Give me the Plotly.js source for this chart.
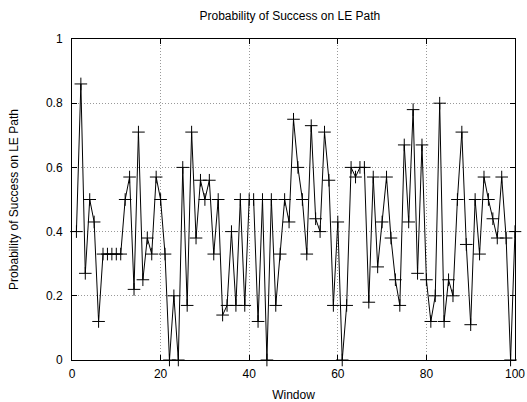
<!DOCTYPE html>
<html>
<head>
<meta charset="utf-8">
<script src="https://cdn.plot.ly/plotly-3.0.1.min.js"></script>
<style>
  html, body { margin: 0; padding: 0; background: #fff; }
  #chart { width: 527px; height: 402px; }
</style>
</head>
<body>
<div id="chart"></div>
<script>
// Success probability per observation window on the LE path
var probability = [
  0.40, 0.86, 0.27, 0.50, 0.43, 0.12, 0.33, 0.33, 0.33, 0.33,
  0.33, 0.50, 0.57, 0.22, 0.71, 0.25, 0.38, 0.33, 0.57, 0.50,
  0.33, 0.00, 0.20, 0.00, 0.60, 0.17, 0.71, 0.38, 0.56, 0.50,
  0.56, 0.33, 0.50, 0.14, 0.17, 0.40, 0.17, 0.50, 0.17, 0.50,
  0.50, 0.12, 0.50, 0.00, 0.50, 0.17, 0.33, 0.50, 0.43, 0.75,
  0.60, 0.50, 0.33, 0.73, 0.44, 0.40, 0.71, 0.56, 0.17, 0.43,
  0.00, 0.17, 0.60, 0.57, 0.60, 0.60, 0.18, 0.57, 0.29, 0.43,
  0.57, 0.38, 0.25, 0.17, 0.67, 0.43, 0.78, 0.27, 0.67, 0.25,
  0.12, 0.20, 0.80, 0.12, 0.25, 0.20, 0.50, 0.71, 0.36, 0.11,
  0.50, 0.33, 0.57, 0.50, 0.44, 0.38, 0.57, 0.38, 0.00, 0.40
];
// Window numbers 1..N
var windows = probability.map(function (_, i) { return i + 1; });

var xTicks = [0, 20, 40, 60, 80, 100];
var yTicks = [0, 0.2, 0.4, 0.6, 0.8, 1];

var font = { family: '"Liberation Sans", Arial, sans-serif', size: 12, color: '#000' };

var axisCommon = {
  showline: true,
  linecolor: '#000',
  linewidth: 1,
  mirror: 'ticks',
  ticks: 'inside',
  ticklen: 5,
  tickwidth: 1,
  tickcolor: '#000',
  showgrid: true,
  gridcolor: '#999',
  gridwidth: 1,
  griddash: '1px,2px',
  zeroline: false,
  tickfont: font,
  tickmode: 'array'
};

var trace = {
  x: windows,
  y: probability,
  type: 'scatter',
  mode: 'lines+markers',
  cliponaxis: false,
  line: { color: '#000', width: 1 },
  marker: {
    symbol: 'cross-thin',
    size: 9,
    color: '#000',
    line: { color: '#000', width: 1 }
  },
  hoverinfo: 'x+y'
};

var layout = {
  width: 527,
  height: 402,
  margin: { l: 72, r: 12, t: 39, b: 42 },
  paper_bgcolor: '#fff',
  plot_bgcolor: '#fff',
  showlegend: false,
  font: font,
  title: {
    text: 'Probability of Success on LE Path',
    font: font,
    x: 0.55,
    xanchor: 'center',
    y: 0.96,
    yanchor: 'middle'
  },
  xaxis: Object.assign({}, axisCommon, {
    range: [0, 100],
    tickvals: xTicks,
    ticktext: xTicks.map(String),
    ticklabelstandoff: 3,
    title: { text: 'Window', font: font, standoff: 10 }
  }),
  yaxis: Object.assign({}, axisCommon, {
    range: [0, 1],
    tickvals: yTicks,
    ticktext: yTicks.map(String),
    ticklabelstandoff: 6,
    title: { text: 'Probability of Success on LE Path', font: font, standoff: 24 }
  })
};

Plotly.newPlot('chart', [trace], layout, { displayModeBar: false, staticPlot: true });
</script>
</body>
</html>
